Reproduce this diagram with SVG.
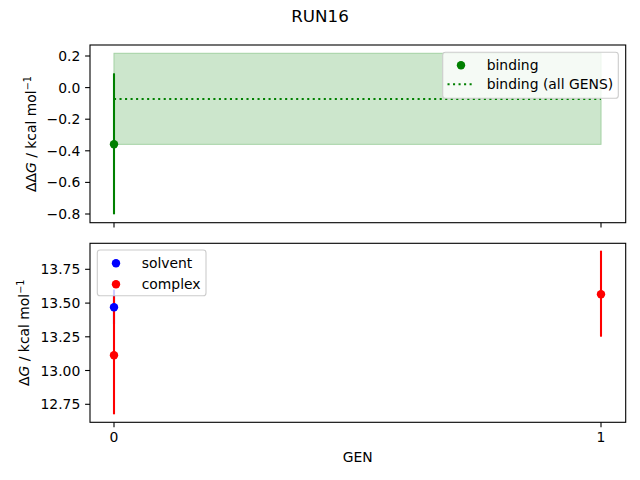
<svg xmlns="http://www.w3.org/2000/svg" width="640" height="480" viewBox="0 0 640 480">
<style>
text{font-family:"DejaVu Sans",sans-serif;font-size:13.9px;fill:#000}
.tl{text-anchor:end}
.tc{text-anchor:middle}
.spine{fill:none;stroke:#000;stroke-width:1.1}
.tick{stroke:#000;stroke-width:1.1}
.leg{fill:#fff;fill-opacity:0.8;stroke:#cccccc;stroke-width:1.1}
</style>
<rect width="640" height="480" fill="#fff"/>
<text x="320" y="22" class="tc" style="font-size:16.7px">RUN16</text>

<g id="top-axes">
  <rect x="114" y="53.3" width="487" height="91" fill="#cce6cc" stroke="#a3d1a3" stroke-width="1"/>
  <line x1="114" y1="99" x2="601" y2="99" stroke="#008000" stroke-width="2.08" stroke-dasharray="2.08 3.44"/>
  <line x1="114" y1="73.3" x2="114" y2="214.3" stroke="#008000" stroke-width="2.08"/>
  <circle cx="114" cy="144.3" r="4.2" fill="#008000"/>
  <rect x="90" y="45" width="535.7" height="177.7" class="spine"/>
  <g class="tick">
    <line x1="85.1" y1="56" x2="90" y2="56"/>
    <line x1="85.1" y1="87.6" x2="90" y2="87.6"/>
    <line x1="85.1" y1="119.2" x2="90" y2="119.2"/>
    <line x1="85.1" y1="150.8" x2="90" y2="150.8"/>
    <line x1="85.1" y1="182.4" x2="90" y2="182.4"/>
    <line x1="85.1" y1="214" x2="90" y2="214"/>
    <line x1="114" y1="222.7" x2="114" y2="227.6"/>
    <line x1="601" y1="222.7" x2="601" y2="227.6"/>
  </g>
  <text x="80.3" y="61" class="tl">0.2</text>
  <text x="80.3" y="92.6" class="tl">0.0</text>
  <text x="80.3" y="124.2" class="tl">−0.2</text>
  <text x="80.3" y="155.8" class="tl">−0.4</text>
  <text x="80.3" y="187.4" class="tl">−0.6</text>
  <text x="80.3" y="219" class="tl">−0.8</text>
  <text transform="translate(36 134) rotate(-90)" class="tc">ΔΔ<tspan font-style="italic">G</tspan> / kcal mol<tspan dy="-5" style="font-size:9.7px">−1</tspan></text>
</g>

<g id="top-legend">
  <rect x="442.7" y="52.3" width="175.6" height="46" rx="2.8" class="leg"/>
  <circle cx="461" cy="65.3" r="4.2" fill="#008000"/>
  <text x="486.7" y="70">binding</text>
  <line x1="447.5" y1="84.3" x2="475" y2="84.3" stroke="#008000" stroke-width="2.08" stroke-dasharray="2.08 3.44"/>
  <text x="486.7" y="89">binding (all GENS)</text>
</g>

<g id="bottom-axes">
  <line x1="114" y1="289.6" x2="114" y2="324.7" stroke="#0000ff" stroke-width="2.08"/>
  <line x1="114" y1="296.2" x2="114" y2="414.3" stroke="#ff0000" stroke-width="2.08"/>
  <line x1="601" y1="250.7" x2="601" y2="336.7" stroke="#ff0000" stroke-width="2.08"/>
  <circle cx="114" cy="355.3" r="4.2" fill="#ff0000"/>
  <circle cx="601" cy="294.3" r="4.2" fill="#ff0000"/>
  <circle cx="114" cy="307.3" r="4.2" fill="#0000ff"/>
  <rect x="90" y="243.3" width="535.7" height="179" class="spine"/>
  <g class="tick">
    <line x1="85.1" y1="269.3" x2="90" y2="269.3"/>
    <line x1="85.1" y1="303.1" x2="90" y2="303.1"/>
    <line x1="85.1" y1="336.8" x2="90" y2="336.8"/>
    <line x1="85.1" y1="370.5" x2="90" y2="370.5"/>
    <line x1="85.1" y1="404.3" x2="90" y2="404.3"/>
    <line x1="114" y1="422.3" x2="114" y2="427.2"/>
    <line x1="601" y1="422.3" x2="601" y2="427.2"/>
  </g>
  <text x="80.3" y="274.3" class="tl">13.75</text>
  <text x="80.3" y="308.1" class="tl">13.50</text>
  <text x="80.3" y="341.8" class="tl">13.25</text>
  <text x="80.3" y="375.5" class="tl">13.00</text>
  <text x="80.3" y="409.3" class="tl">12.75</text>
  <text x="114" y="442" class="tc">0</text>
  <text x="601" y="442" class="tc">1</text>
  <text x="357.8" y="462" class="tc">GEN</text>
  <text transform="translate(29 332.7) rotate(-90)" class="tc">Δ<tspan font-style="italic">G</tspan> / kcal mol<tspan dy="-5" style="font-size:9.7px">−1</tspan></text>
</g>

<g id="bottom-legend">
  <rect x="97.3" y="250" width="108.7" height="45.7" rx="2.8" class="leg"/>
  <circle cx="116" cy="263.3" r="4.2" fill="#0000ff"/>
  <text x="141.7" y="268">solvent</text>
  <circle cx="116" cy="284.3" r="4.2" fill="#ff0000"/>
  <text x="141.7" y="289">complex</text>
</g>
</svg>
